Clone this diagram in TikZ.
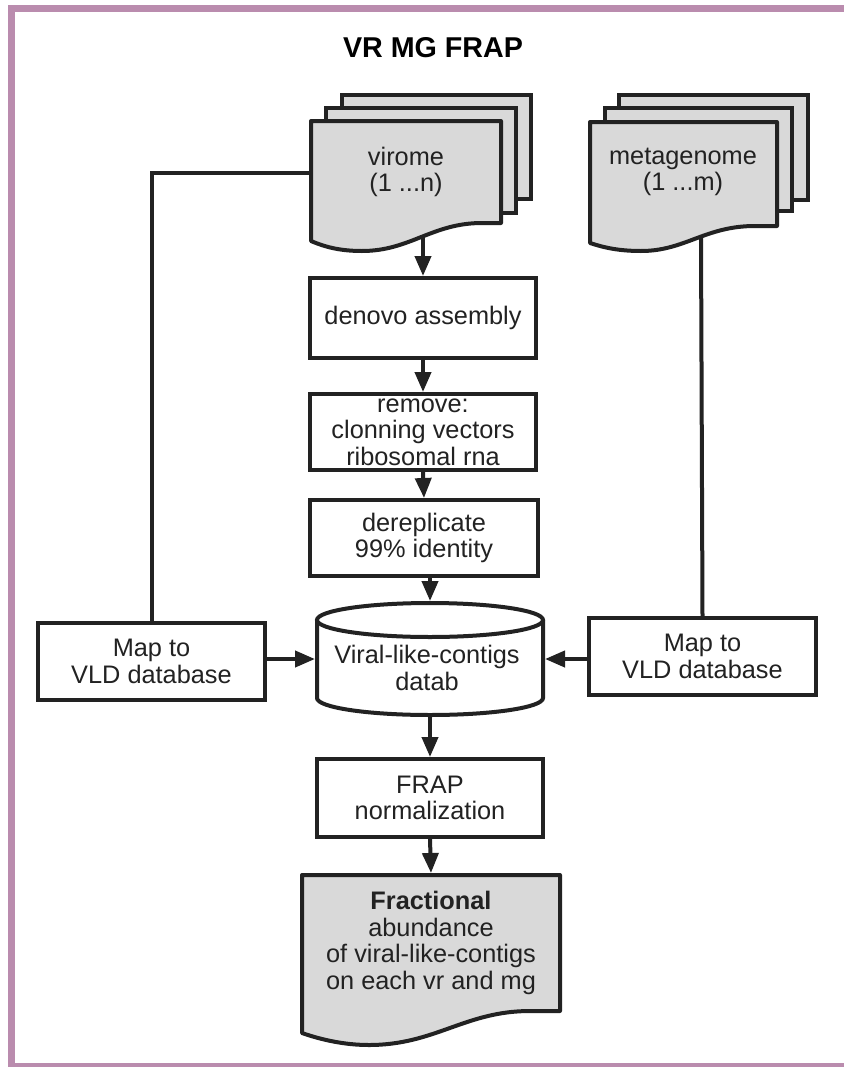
\documentclass[tikz,border=0pt]{standalone}
\usepackage{fontspec}
\setmainfont{Liberation Sans}
\usetikzlibrary{arrows.meta}
\definecolor{frame}{RGB}{186,140,174}
\definecolor{ink}{RGB}{34,34,34}
\definecolor{docgray}{RGB}{217,217,217}
\begin{document}
\begin{tikzpicture}[x=0.75pt,y=-0.75pt,
  txt/.style={font=\fontsize{19}{20}\selectfont, text=ink, align=center},
  box/.style={txt, draw=ink, line width=3pt, fill=white, inner sep=0pt},
  ln/.style={draw=ink, line width=3pt},
  arr/.style={draw=ink, line width=3pt, -{Triangle[length=15pt,width=12pt]}},
  doc/.style={draw=ink, line width=3pt, fill=docgray, line join=round},
  sheet/.style={draw=ink, line width=3pt, fill=docgray}]
\useasboundingbox (0,0) rectangle (844,1067);
\fill[white] (0,0) rectangle (844,1067);
% frame
\fill[frame] (8,5) rectangle (844,12);
\fill[frame] (8,5) rectangle (15,1067);
\fill[frame] (8,1063) rectangle (844,1067);

% title
\node[font=\fontsize{21.5}{24}\selectfont\bfseries, text=black] (title) at (433,48) {VR MG FRAP};

% virome stack
\draw[sheet] (342,95) rectangle (531,199);
\draw[sheet] (326,108) rectangle (516,213);
\draw[doc] (311,121) -- (501,121) -- (501,223) -- (482,223) .. controls (432,223) and (410,251) .. (362,251) .. controls (340,251) and (325,247) .. (311,241) -- cycle;
\node[txt] (vir) at (406,172) {virome\\(1 ...n)};
\coordinate (virleft) at (311,173);
\coordinate (virbot) at (423,237);

% metagenome stack
\draw[sheet] (619,95) rectangle (808,200);
\draw[sheet] (605,108) rectangle (792,211);
\draw[doc] (590,122) -- (777,122) -- (777,226) -- (755,226) .. controls (705,226) and (685,251) .. (641,251) .. controls (620,251) and (605,248) .. (590,243) -- cycle;
\node[txt] (meta) at (683,172) {metagenome\\(1 ...m)};
\coordinate (metabot) at (701,238);

% process boxes
\node[box, minimum width=169.5pt, minimum height=60pt] (denovo) at (423,318) {denovo assembly};
\node[box, minimum width=169.5pt, minimum height=57pt] (remove) at (423,432) {remove:\\clonning vectors\\ribosomal rna};
\node[box, minimum width=171pt, minimum height=57pt] (derep) at (424,538) {dereplicate\\99\% identity};
\node[box, minimum width=170.25pt, minimum height=57.75pt] (lmap) at (151.5,661.5) {Map to\\VLD database};
\node[box, minimum width=170.25pt, minimum height=57.75pt] (rmap) at (702.5,656.5) {Map to\\VLD database};
\node[box, minimum width=169.5pt, minimum height=58.5pt] (frap) at (430,798) {FRAP\\normalization};

% database cylinder
\node[minimum width=172.5pt, minimum height=87pt, inner sep=0pt, outer sep=0pt] (db) at (430,659) {};
\filldraw[ln, fill=white] (317,620) -- (317,698) .. controls (317,707.4) and (367.6,715) .. (430,715) .. controls (492.4,715) and (543,707.4) .. (543,698) -- (543,620);
\filldraw[ln, fill=white] (430,620) ellipse [x radius=113, y radius=17];
\node[txt] (dbtext) at (427,668) {Viral-like-contigs\\datab};

% result document
\draw[doc] (302,875) -- (560,875) -- (560,1011) -- (530,1011) .. controls (465,1011) and (435,1045) .. (369,1045) .. controls (345,1045) and (322,1040) .. (302,1033) -- cycle;
\node[txt] (frac) at (431,943) {\textbf{Fractional}\\abundance\\of viral-like-contigs\\on each vr and mg};
\coordinate (fractop) at (431,873);

% connectors
\draw[ln] (virleft) -| (lmap.north);
\draw[ln] (metabot) -- (rmap.north);
\draw[arr] (virbot) -- (denovo.north);
\draw[arr] (denovo.south) -- (remove.north);
\draw[arr] (remove.south) -- (derep.north);
\draw[arr] (derep.south -| db.north) -- (db.north);
\draw[arr] (lmap.east |- db.west) -- (db.west);
\draw[arr] (rmap.west |- db.east) -- (db.east);
\draw[arr] (db.south) -- (frap.north);
\draw[arr] (frap.south) -- (fractop);
\end{tikzpicture}
\end{document}
